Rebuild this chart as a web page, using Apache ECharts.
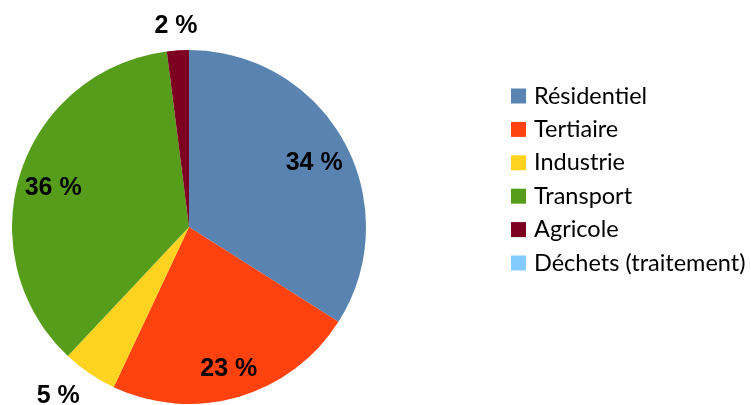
<!DOCTYPE html>
<html>
<head>
<meta charset="utf-8">
<script src="https://cdn.jsdelivr.net/npm/echarts@6/dist/echarts.min.js"></script>
<style>
  html, body { margin: 0; padding: 0; background: #fff; }
  #chart { width: 751px; height: 405px; }
</style>
</head>
<body>
<div id="chart"></div>
<script>
  // secteurs et parts (%)
  const categories = ['Résidentiel', 'Tertiaire', 'Industrie', 'Transport', 'Agricole', 'Déchets (traitement)'];
  const values = [34, 23, 5, 36, 2, 0];
  const colors = ['#5983b0', '#ff420e', '#ffd320', '#579d1c', '#7e0021', '#83caff'];
  // 0 = étiquette dans le disque, 1 = au-dessus du disque, 2 = en bas à gauche
  const labelPlace = [0, 0, 2, 0, 1, 0];

  const center = [189, 227];
  const R = 177;

  let myChart = echarts.init(document.getElementById('chart'));

  const labelFont = {
    fontFamily: '"Liberation Sans", Arial, sans-serif',
    fontWeight: 'bold',
    fontSize: 25,
    color: '#000'
  };

  // couche transparente qui ne sert qu'à placer les étiquettes
  function labelLayer(radius, dx, dy, place) {
    return {
      type: 'pie',
      radius: [0, radius],
      center: [center[0] + dx, center[1] + dy],
      startAngle: 90,
      clockwise: true,
      silent: true,
      z: 5,
      legendHoverLink: false,
      emphasis: { disabled: true },
      labelLine: { show: false },
      itemStyle: { color: 'rgba(0,0,0,0)' },
      data: categories.map((name, i) => ({
        name: name + ' ',
        value: values[i],
        label: {
          show: values[i] > 0 && labelPlace[i] === place,
          position: 'inside',
          formatter: values[i] + ' %',
          ...labelFont
        }
      }))
    };
  }

  myChart.setOption({
    animation: false,
    color: colors,
    legend: {
      orient: 'vertical',
      left: 506,
      top: 79,
      data: categories,
      icon: 'rect',
      itemWidth: 15,
      itemHeight: 15,
      itemGap: 9.4,
      textStyle: {
        fontFamily: 'Lato, "Open Sans", sans-serif',
        fontSize: 23.5,
        lineHeight: 24,
        color: '#000',
        padding: [0, 0, 0, 3]
      }
    },
    series: [
      {
        type: 'pie',
        radius: [0, R],
        center: center,
        startAngle: 90,
        clockwise: true,
        stillShowZeroSum: true,
        label: { show: false },
        labelLine: { show: false },
        emphasis: { disabled: true },
        data: categories.map((name, i) => ({ name: name, value: values[i] }))
      },
      labelLayer(R * 1.58, 0, 5, 0),
      labelLayer(R * 2.32, 0, 7, 1),
      labelLayer(427, -9, -10, 2)
    ]
  });
</script>
</body>
</html>
